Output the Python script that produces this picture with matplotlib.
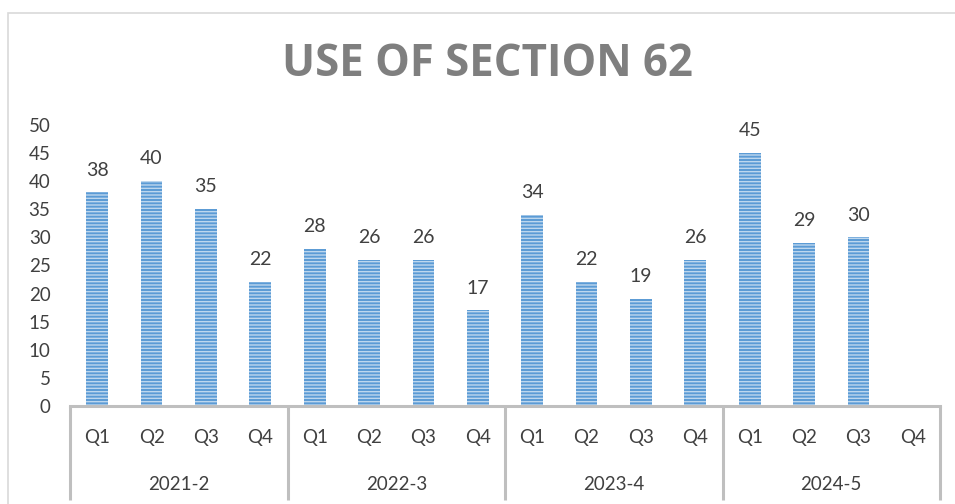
import matplotlib
matplotlib.use("Agg")
import matplotlib.pyplot as plt
from matplotlib.patches import Rectangle

quarters = ["Q1", "Q2", "Q3", "Q4"]
years = ["2021-2", "2022-3", "2023-4", "2024-5"]
values = [38, 40, 35, 22,
          28, 26, 26, 17,
          34, 22, 19, 26,
          45, 29, 30, None]
yticks = [0, 5, 10, 15, 20, 25, 30, 35, 40, 45, 50]

plt.rcParams['font.family'] = ['Lato', 'DejaVu Sans']
plt.rcParams['hatch.linewidth'] = 1.0

W, H = 955, 504
fig = plt.figure(figsize=(W / 100, H / 100), dpi=100)
ax = fig.add_axes([70 / W, 1 - 406 / H, (940 - 70) / W, (406 - 125) / H])

xs = list(range(len(values)))
bx = [x for x, v in zip(xs, values) if v is not None]
bv = [v for v in values if v is not None]
ax.bar(bx, bv, width=0.4, color="#5B9BD5", edgecolor="#BDD7EE",
       linewidth=0, hatch="-----", zorder=2)
for x, v in zip(bx, bv):
    ax.annotate(str(v), (x, v), xytext=(0, 10), textcoords="offset points",
                ha="center", va="bottom", fontsize=14, color="#404040")

ax.set_xlim(-0.5, len(values) - 0.5)
ax.set_ylim(0, 50)
ax.set_yticks(yticks)
ax.tick_params(axis="y", length=0, pad=14, labelsize=13.5, labelcolor="#404040")
ax.set_xticks([])
for s in ["top", "right", "left"]:
    ax.spines[s].set_visible(False)
ax.spines["bottom"].set_color("#BFBFBF")
ax.spines["bottom"].set_linewidth(2.2)

trans = ax.get_xaxis_transform()
axh = (406 - 125)
for i, x in enumerate(xs):
    ax.text(x, -(437 - 406) / axh, quarters[i % 4], transform=trans,
            ha="center", va="center", fontsize=13.5, color="#404040")
for g, name in enumerate(years):
    ax.text(g * 4 + 1.5, -(485 - 406) / axh, name, transform=trans,
            ha="center", va="center", fontsize=13.5, color="#404040")
for b in [-0.5, 3.5, 7.5, 11.5, 15.5]:
    ax.plot([b, b], [0, -(500 - 406) / axh], transform=trans, color="#BFBFBF",
            lw=2.2, clip_on=False, solid_capstyle="butt")

fig.text(487 / W, 1 - 65 / H, "USE OF SECTION 62", ha="center", va="center",
         fontsize=31.5, fontweight="bold", color="#7F7F7F",
         family=["Open Sans", "DejaVu Sans"])

fig.patches.append(Rectangle((8 / W, -0.1), 1.2, 1 - 13 / H + 0.1,
                             transform=fig.transFigure, fill=False,
                             edgecolor="#D9D9D9", lw=1.2))

fig.savefig("out.png", dpi=100)
